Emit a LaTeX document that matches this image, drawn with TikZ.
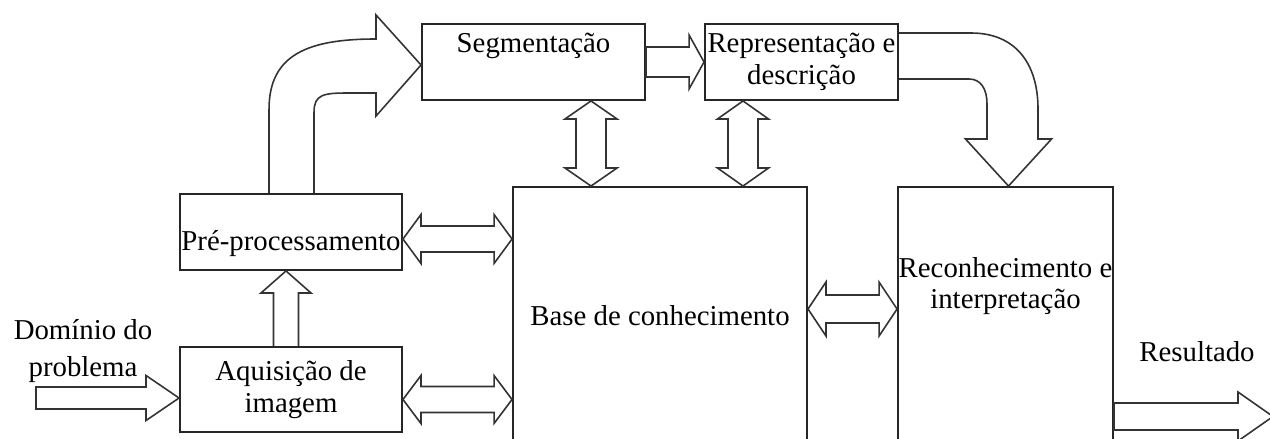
\documentclass[tikz,border=0pt]{standalone}
\usepackage{fontspec}
\setmainfont{Liberation Serif}
\usetikzlibrary{calc}

\newcommand{\lbl}{\fontsize{16.4}{18.1}\selectfont}
% block arrows: #1 from, #2 to, #3 half shaft, #4 half head, #5 head length
\newcommand{\blkright}[5]{\draw[blk] ($(#1)+(0,-#3)$) -- ($(#2)+(-#5,-#3)$) -- ($(#2)+(-#5,-#4)$) -- (#2) -- ($(#2)+(-#5,#4)$) -- ($(#2)+(-#5,#3)$) -- ($(#1)+(0,#3)$) -- cycle;}
\newcommand{\blkup}[5]{\draw[blk] ($(#1)+(-#3,0)$) -- ($(#2)+(-#3,#5)$) -- ($(#2)+(-#4,#5)$) -- (#2) -- ($(#2)+(#4,#5)$) -- ($(#2)+(#3,#5)$) -- ($(#1)+(#3,0)$);}
\newcommand{\blkhh}[5]{\draw[blk] (#1) -- ($(#1)+(#5,-#4)$) -- ($(#1)+(#5,-#3)$) -- ($(#2)+(-#5,-#3)$) -- ($(#2)+(-#5,-#4)$) -- (#2) -- ($(#2)+(-#5,#4)$) -- ($(#2)+(-#5,#3)$) -- ($(#1)+(#5,#3)$) -- ($(#1)+(#5,#4)$) -- cycle;}
\newcommand{\blkvv}[5]{\draw[blk] (#1) -- ($(#1)+(#4,#5)$) -- ($(#1)+(#3,#5)$) -- ($(#2)+(#3,-#5)$) -- ($(#2)+(#4,-#5)$) -- (#2) -- ($(#2)+(-#4,-#5)$) -- ($(#2)+(-#3,-#5)$) -- ($(#1)+(-#3,#5)$) -- ($(#1)+(-#4,#5)$) -- cycle;}

\begin{document}
\begin{tikzpicture}[x=0.02cm,y=-0.02cm,
  box/.style={draw=black!85,line width=1.1pt,inner sep=0pt,align=center,font=\lbl},
  sz/.style 2 args={minimum width=#1*0.02cm,minimum height=#2*0.02cm},
  blk/.style={draw=black!80,line width=0.9pt,line join=miter},
  txt/.style={align=center,font=\lbl,inner sep=0pt}]
\useasboundingbox[fill=white] (0,0) rectangle (1270,439);

% blocks
\node[box,sz={223}{76},text depth=21.7pt] (seg) at (533.5,62) {Segmentação};
\node[box,sz={193}{76}] (rep) at (801.5,62) {Representação e\\descrição};
\node[box,sz={222}{76},text height=25pt] (pre) at (291,232) {Pré-processamento};
\node[box,sz={222}{85}] (aq) at (291,389.5) {Aquisição de\\imagem};
\node[box,sz={294}{273},text depth=9.6pt] (base) at (660,323.5) {Base de conhecimento};
\node[box,sz={215}{273},text depth=46pt] (rec) at (1005.5,323.5) {Reconhecimento e\\interpretação};

\node[txt] (dom) at (83,351) {Domínio do\\[3pt]problema};
\node[txt] (res) at (1197,352) {Resultado};

% end points
\coordinate (aqin) at ($(aq.west)+(0,8.5)$);
\coordinate (src) at ($(aqin)+(-143,0)$);
\coordinate (preout) at ($(pre.east)+(0,7)$);
\coordinate (aqout) at ($(aq.east)+(0,10)$);
\coordinate (baseout) at ($(base.east)+(0,-14.5)$);
\coordinate (aqup) at ($(aq.north)+(-5,0)$);
\coordinate (segdn) at ($(seg.south)+(57.5,0)$);
\coordinate (repdn) at ($(rep.south)+(-58.5,0)$);
\coordinate (recout) at ($(rec.east)+(0,93)$);
\coordinate (sink) at ($(recout)+(159,0)$);
\coordinate (segin) at ($(seg.west)+(0,3)$);
\coordinate (recin) at ($(rec.north)+(3,0)$);

% straight arrows
\blkright{src}{aqin}{11}{22.5}{33}
\blkup{aqup}{aqup |- pre.south}{12.5}{25}{22}
\blkhh{preout}{preout -| base.west}{13}{24.5}{18}
\blkhh{aqout}{aqout -| base.west}{13}{24}{18}
\blkhh{baseout}{baseout -| rec.west}{14}{27}{18}
\blkvv{segdn}{segdn |- base.north}{15}{26}{18}
\blkvv{repdn}{repdn |- base.north}{15}{25.5}{18}
\blkright{seg.east}{rep.west}{15}{27}{15}
\blkright{recout}{sink}{13.5}{24.5}{35}

% curved arrows
\draw[blk] ($(pre.north west)+(90,0)$) -- ++(0,-84) .. controls +(0,-55) and +(-67,0) .. ($(segin)+(-45,-26)$)
  -- ++(0,-24) -- (segin) -- ++(-45,51) -- ++(0,-23) -- ++(-27,0)
  .. controls +(-25,0) and +(0,-18) .. ($(pre.north west)+(135,-81)$) -- ($(pre.north west)+(135,0)$);
\draw[blk] ($(rep.east)+(0,-29)$) -- ++(72,0) .. controls +(45,0) and +(0,-45) .. ($(recin)+(29.5,-77)$)
  -- ++(0,30) -- ++(13.5,0) -- (recin) -- ++(-43,-47) -- ++(21.5,0) -- ++(0,-35)
  .. controls +(0,-15) and +(12,0) .. ($(rep.east)+(70,17)$) -- ($(rep.east)+(0,17)$);
\end{tikzpicture}
\end{document}
